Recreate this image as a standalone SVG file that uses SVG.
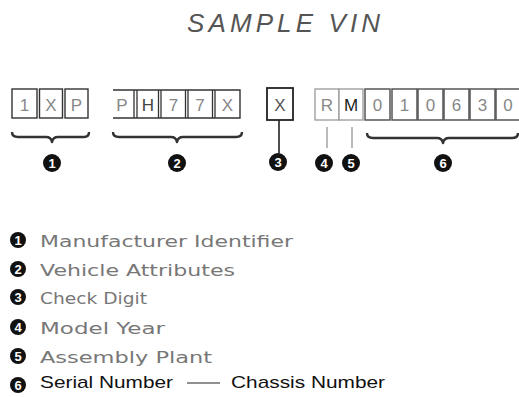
<svg xmlns="http://www.w3.org/2000/svg" width="519" height="397" viewBox="0 0 519 397">
<style>
.cell{fill:#fff;stroke:#333;stroke-width:1.4}
.lcell{fill:#fff;stroke:#999;stroke-width:1.3}
.dcell{fill:#fff;stroke:#555;stroke-width:1.5}
.ch{font-family:"Liberation Sans",Arial,sans-serif;font-size:17px;fill:#888;text-anchor:middle}
.brace{fill:none;stroke:#333;stroke-width:2.4;stroke-linejoin:round}
.num{fill:#111}
.nt{font-family:"Liberation Sans",Arial,sans-serif;font-weight:bold;font-size:13px;fill:#fff;text-anchor:middle}
.lg{font-family:"DejaVu Sans",sans-serif;font-size:16px;fill:#777}
.lgb{font-family:"Liberation Sans",Arial,sans-serif;font-size:17px;fill:#111}
.ln{stroke:#222;stroke-width:1.6}
.tl{stroke:#777;stroke-width:1}
</style>
<text x="187" y="32" font-family="Liberation Sans, Arial, sans-serif" font-style="italic" font-size="26" fill="#555" textLength="193" lengthAdjust="spacing">SAMPLE VIN</text>

<g id="wmi">
<rect class="cell" x="12" y="89" width="25" height="29"/>
<rect class="cell" x="39.5" y="89" width="23" height="29"/>
<rect class="cell" x="65" y="89" width="23" height="29"/>
<text class="ch" x="24.5" y="111">1</text>
<text class="ch" x="51" y="111">X</text>
<text class="ch" x="76.5" y="111">P</text>
<path class="brace" d="M12,132 Q12,137 18,137 L46,137 Q51,137 52,142 Q53,137 58,137 L84,137 Q89,137 89,132"/>
<circle class="num" cx="52" cy="163" r="9"/>
<text class="nt" x="52" y="167.5">1</text>
</g>

<g id="vds">
<path d="M113,90 H240 V118 H113" fill="#fff" stroke="#333" stroke-width="1.4"/>
<path d="M134,90 V118 M137,90 V118 M158.5,90 V118 M161,90 V118 M185.5,90 V118 M188,90 V118 M212.5,90 V118 M215,90 V118" stroke="#333" stroke-width="1.3"/>
<text class="ch" x="122" y="111">P</text>
<text class="ch" x="148" y="111" style="fill:#444">H</text>
<text class="ch" x="173.5" y="111">7</text>
<text class="ch" x="200" y="111">7</text>
<text class="ch" x="227.5" y="111">X</text>
<path class="brace" d="M113,132 Q113,137 119,137 L171,137 Q176,137 177,142 Q178,137 183,137 L236,137 Q242,137 242,132"/>
<circle class="num" cx="177" cy="163" r="9"/>
<text class="nt" x="177" y="167.5">2</text>
</g>

<g id="check">
<rect x="267" y="88" width="26" height="32" fill="#fff" stroke="#222" stroke-width="1.8"/>
<text class="ch" x="280" y="111" style="fill:#555">X</text>
<circle class="num" cx="278" cy="162" r="9"/>
<text class="nt" x="278" y="166.5">3</text>
</g>

<g id="year">
<rect class="lcell" x="315" y="89" width="24" height="31"/>
<text class="ch" x="327" y="111">R</text>
<circle class="num" cx="324" cy="163" r="9"/>
<text class="nt" x="324" y="167.5">4</text>
</g>

<g id="plant">
<rect class="lcell" x="339" y="89" width="24" height="31"/>
<text class="ch" x="351" y="111" style="fill:#222">M</text>
<circle class="num" cx="351" cy="163" r="9"/>
<text class="nt" x="351" y="167.5">5</text>
</g>

<g id="serial">
<rect class="dcell" x="365" y="89" width="25" height="31"/>
<rect class="dcell" x="392" y="89" width="25" height="31"/>
<rect class="dcell" x="418" y="89" width="25" height="31"/>
<rect class="dcell" x="444" y="89" width="25" height="31"/>
<rect class="dcell" x="470" y="89" width="25" height="31"/>
<rect class="dcell" x="496" y="89" width="24" height="31"/>
<text class="ch" x="377.5" y="111">0</text>
<text class="ch" x="404.5" y="111">1</text>
<text class="ch" x="430.5" y="111">0</text>
<text class="ch" x="456.5" y="111">6</text>
<text class="ch" x="482.5" y="111">3</text>
<text class="ch" x="508" y="111">0</text>
<path class="brace" d="M367,133 Q367,138 373,138 L437,138 Q442,138 443,143 Q444,138 449,138 L512,138 Q518,138 518,133"/>
<circle class="num" cx="443" cy="163" r="9"/>
<text class="nt" x="443" y="167.5">6</text>
</g>

<g id="connectors">
<line class="ln" x1="279" y1="120" x2="279" y2="155"/>
<line class="tl" x1="327" y1="127" x2="327" y2="148"/>
<line class="tl" x1="352" y1="127" x2="352" y2="148"/>
</g>

<g id="legend">
<circle class="num" cx="18" cy="240" r="8"/><text class="nt" x="18" y="244.5">1</text>
<text class="lg" x="40" y="247" textLength="253" lengthAdjust="spacingAndGlyphs">Manufacturer Identifier</text>
<circle class="num" cx="18" cy="269" r="8"/><text class="nt" x="18" y="273.5">2</text>
<text class="lg" x="40" y="276" textLength="195" lengthAdjust="spacingAndGlyphs">Vehicle Attributes</text>
<circle class="num" cx="18" cy="297" r="8"/><text class="nt" x="18" y="301.5">3</text>
<text class="lg" x="40" y="304" textLength="107" lengthAdjust="spacingAndGlyphs">Check Digit</text>
<circle class="num" cx="18" cy="327" r="8"/><text class="nt" x="18" y="331.5">4</text>
<text class="lg" x="40" y="334" textLength="125" lengthAdjust="spacingAndGlyphs">Model Year</text>
<circle class="num" cx="18" cy="356" r="8"/><text class="nt" x="18" y="360.5">5</text>
<text class="lg" x="40" y="363" textLength="172" lengthAdjust="spacingAndGlyphs">Assembly Plant</text>
<circle class="num" cx="18" cy="385" r="8"/><text class="nt" x="18" y="389.5">6</text>
<text class="lgb" x="40" y="388" textLength="133" lengthAdjust="spacingAndGlyphs">Serial Number</text>
<line x1="187" y1="383" x2="220" y2="383" stroke="#222" stroke-width="1.2"/>
<text class="lgb" x="231" y="388" textLength="154" lengthAdjust="spacingAndGlyphs">Chassis Number</text>
</g>
</svg>
